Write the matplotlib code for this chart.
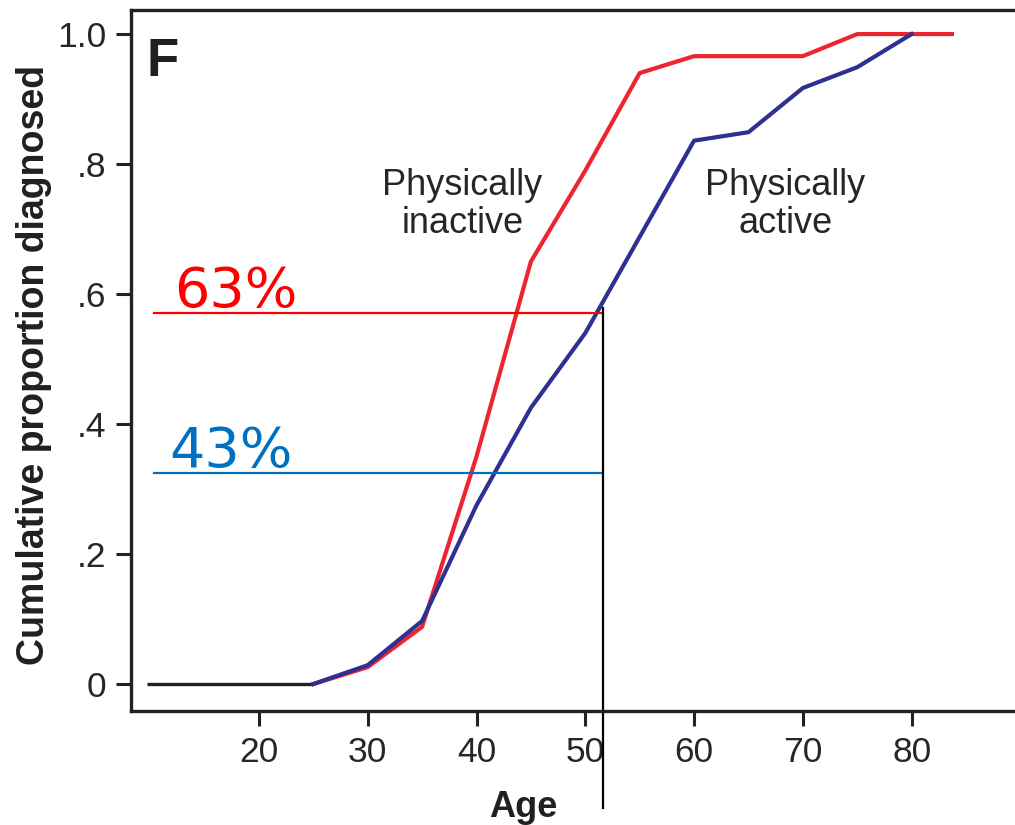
import numpy as np
import matplotlib
matplotlib.use("Agg")
import matplotlib.pyplot as plt

plt.rcParams['font.family'] = ['Liberation Sans', 'DejaVu Sans']

# cumulative proportion diagnosed
inactive_age = [25, 30, 35, 40, 45, 50, 55, 60, 65, 70, 75, 80, 83.7]
inactive_val = [0, 0.026, 0.088, 0.35, 0.65, 0.79, 0.94, 0.966, 0.966, 0.966, 1.0, 1.0, 1.0]

active_age = [25, 30, 35, 40, 45, 50, 60, 65, 70, 75, 80]
active_val = [0, 0.029, 0.097, 0.275, 0.425, 0.54, 0.836, 0.849, 0.917, 0.949, 1.0]

baseline_age = [9.7, 25]
baseline_val = [0, 0]

# marker lines at age ~51.6
mark_age = 51.6
mark_start = 10.4
red_level = 0.571
blue_level = 0.325
red_label = "63%"
blue_label = "43%"

xticks = [20, 30, 40, 50, 60, 70, 80]
yticks = [0, 0.2, 0.4, 0.6, 0.8, 1.0]
ytick_labels = ["0", ".2", ".4", ".6", ".8", "1.0"]

txt = '#262626'
red = '#ed2530'
navy = '#2e3192'

fig = plt.figure(figsize=(10.15, 8.25), dpi=100)
ax = fig.add_axes([131 / 1015, 114 / 825, 884 / 1015, 701 / 825])

ax.plot(baseline_age, baseline_val, color='#222222', lw=2.4, solid_capstyle='butt')
ax.plot(inactive_age, inactive_val, color=red, lw=3.0)
ax.plot(active_age, active_val, color=navy, lw=3.0)

# annotation lines
ax.plot([mark_start, mark_age], [red_level, red_level], color='#ff0000', lw=1.6)
ax.plot([mark_start, mark_age], [blue_level, blue_level], color='#0070c0', lw=1.6)
ax.plot([mark_age, mark_age], [red_level + 0.007, -0.19], color='black', lw=1.6, clip_on=False)

ax.text(12.2, 0.58, red_label, color='#ff0000', fontsize=40, family='DejaVu Sans', va='baseline')
ax.text(11.8, 0.334, blue_label, color='#0070c0', fontsize=40, family='DejaVu Sans', va='baseline')

ax.text(38.7, 0.738, "Physically\ninactive", ha='center', va='center', fontsize=26,
        color=txt, linespacing=1.1)
ax.text(68.4, 0.738, "Physically\nactive", ha='center', va='center', fontsize=26,
        color=txt, linespacing=1.1)

ax.text(9.7, 0.957, "F", fontsize=38, fontweight='bold', color='#231f20', va='center')

ax.set_xlim(8.24, 89.5)
ax.set_ylim(-0.0415, 1.037)
ax.set_xticks(xticks)
ax.set_yticks(yticks)
ax.set_yticklabels(ytick_labels)
ax.tick_params(direction='out', length=11, width=2.2, color='#222222', labelsize=25.5,
               labelcolor=txt, pad=7)
for s in ['left', 'bottom', 'top']:
    ax.spines[s].set_linewidth(2.4)
    ax.spines[s].set_color('#222222')
ax.spines['right'].set_visible(False)

fig.text(34 / 1015, 1 - 365 / 825, "Cumulative proportion diagnosed", rotation=90,
         ha='center', va='center', fontsize=27, fontweight='bold', color='#231f20')
fig.text(523 / 1015, 8 / 825, "Age", ha='center', va='baseline', fontsize=26,
         fontweight='bold', color='#231f20')

fig.savefig("out.png", dpi=100)
